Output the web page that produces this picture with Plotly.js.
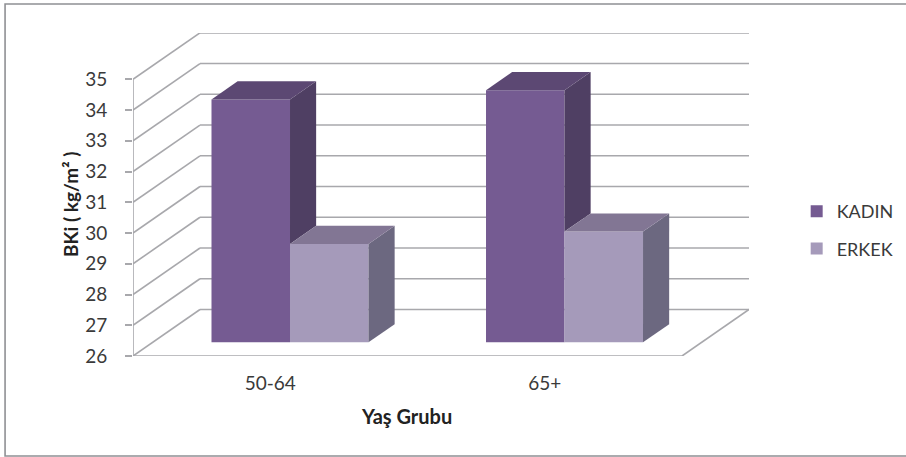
<!DOCTYPE html>
<html>
<head>
<meta charset="utf-8">
<script src="https://cdn.plot.ly/plotly-3.0.1.min.js"></script>
<style>
  html, body { margin: 0; padding: 0; background: #fff; overflow: hidden; }
  #chart { width: 906px; height: 457px; }
</style>
</head>
<body>
<div id="chart"></div>
<script>
// BKİ by age group and sex
const categories = ['50-64', '65+'];
const kadinValues = [33.9, 34.2];
const erkekValues = [29.2, 29.6];
const valueTicks = [26, 27, 28, 29, 30, 31, 32, 33, 34, 35];

// Oblique projection, in axis units: a full step of depth moves right and up.
const depthX = 0.244;
const depthY = 1.513;
const barInset = 0.295;   // where the bar fronts sit in the floor's depth
const barDepth = 0.39;    // how deep each bar runs
const barWidth = 0.286;

const xStart = 0.5;
const xFloorEnd = xStart + categories.length;
const yFloor = valueTicks[0];
const yTop = valueTicks[valueTicks.length - 1];
const centers = categories.map((_, i) => i + 1);
const frontShift = depthX * barInset;
const frontBase = yFloor + depthY * barInset;

const gridColor = '#a8a8ac';
const textColor = '#3a3a3a';
const fontFamily = 'Lato, "Open Sans", sans-serif';

function segment(x0, y0, x1, y1, color, width) {
  return { type: 'line', layer: 'below', xref: 'x', yref: 'y', x0, y0, x1, y1,
           line: { color: color || gridColor, width: width || 1.6 } };
}

// Side wall and back wall rules for each value, plus the floor outline and axis.
const shapes = [];
valueTicks.forEach(v => {
  shapes.push(segment(xStart, v, xStart + depthX, v + depthY));
  shapes.push(segment(xStart + depthX, v + depthY, xFloorEnd + depthX, v + depthY));
});
shapes.push(segment(xStart, yFloor, xStart, yTop));
shapes.push(segment(xStart, yFloor, xFloorEnd, yFloor));
shapes.push(segment(xFloorEnd, yFloor, xFloorEnd + depthX, yFloor + depthY));

// Outer chart frame, open past the right edge of the page.
const plotL = 133, plotR = 749.3, plotT = 33, plotB = 356;
const px = p => (p - plotL) / (plotR - plotL);
const py = p => (plotB - p) / (plotB - plotT);
shapes.push({ type: 'rect', layer: 'below', xref: 'paper', yref: 'paper',
  x0: px(5), x1: px(912), y0: py(456), y1: py(4),
  line: { color: '#8f9094', width: 1.6 }, fillcolor: 'rgba(0,0,0,0)' });

function face(xs, ys, color) {
  return { type: 'scatter', mode: 'lines', x: xs, y: ys, fill: 'toself', fillcolor: color,
           line: { width: 0, color: color }, hoverinfo: 'skip', showlegend: false };
}

const dX = depthX * barDepth, dY = depthY * barDepth;
const barY = v => v + depthY * barInset;

// Top and right faces extruded from each bar front.
const faces = [];
function addFaces(left, right, value, floorOfSide, topColor, sideColor) {
  const t = barY(value), b = barY(floorOfSide);
  faces.push(face([right, right + dX, right + dX, right, right], [t, t + dY, b + dY, b, t], sideColor));
  faces.push(face([left, left + dX, right + dX, right, left], [t, t + dY, t + dY, t, t], topColor));
}
centers.forEach((c, i) => {
  const mid = c + frontShift;
  // The KADIN side is only seen above the neighbouring ERKEK top face.
  addFaces(mid - barWidth, mid, kadinValues[i], erkekValues[i], '#5c4873', '#4f3f63');
  addFaces(mid, mid + barWidth, erkekValues[i], yFloor, '#827694', '#6c6880');
});

const barX = centers.map(c => c + frontShift);
const kadinBars = {
  type: 'bar', name: 'KADIN', legendgroup: 'kadin', x: barX,
  y: kadinValues.map(v => v - yFloor), base: kadinValues.map(() => frontBase),
  marker: { color: '#755b92', line: { width: 0 } },
  customdata: kadinValues, hovertemplate: 'KADIN: %{customdata}<extra></extra>'
};
const erkekBars = {
  type: 'bar', name: 'ERKEK', legendgroup: 'erkek', x: barX,
  y: erkekValues.map(v => v - yFloor), base: erkekValues.map(() => frontBase),
  marker: { color: '#a59aba', line: { width: 0 } },
  customdata: erkekValues, hovertemplate: 'ERKEK: %{customdata}<extra></extra>'
};

const layout = {
  width: 906, height: 457,
  margin: { l: plotL, r: 906 - plotR, t: plotT, b: 457 - plotB, pad: 0, autoexpand: false },
  paper_bgcolor: '#fff', plot_bgcolor: 'rgba(0,0,0,0)',
  barmode: 'group', bargap: 1 - 2 * barWidth, bargroupgap: 0,
  font: { family: fontFamily, color: textColor },
  xaxis: {
    range: [xStart, xFloorEnd + depthX], tickmode: 'array', tickvals: centers, ticktext: categories,
    showgrid: false, zeroline: false, showline: false, ticks: '', ticklabelstandoff: 14,
    tickfont: { size: 19, color: textColor, family: fontFamily }, automargin: false
  },
  yaxis: {
    range: [yFloor, yFloor + (plotB - plotT) / 30.74], tickmode: 'array', tickvals: valueTicks,
    showgrid: false, zeroline: false, showline: false, ticks: 'outside', ticklen: 7, tickwidth: 1.6,
    tickcolor: gridColor, ticklabelstandoff: 14,
    tickfont: { size: 19, color: textColor, family: fontFamily }, automargin: false
  },
  shapes,
  annotations: [
    { text: '<b>BKi ( kg/m² )</b>', textangle: -90, xref: 'paper', yref: 'paper', showarrow: false,
      x: px(71), y: py(205), xanchor: 'center', yanchor: 'middle',
      font: { size: 19, color: '#222', family: fontFamily } },
    { text: '<b>Yaş Grubu</b>', xref: 'paper', yref: 'paper', showarrow: false,
      x: px(407), y: py(416), xanchor: 'center', yanchor: 'middle',
      font: { size: 20, color: '#222', family: fontFamily } }
  ],
  legend: {
    x: px(797), y: py(193), xanchor: 'left', yanchor: 'top', traceorder: 'grouped',
    tracegroupgap: 11, bgcolor: 'rgba(0,0,0,0)', itemwidth: 30,
    font: { size: 18, color: textColor, family: fontFamily }
  },
  hovermode: 'closest'
};

Plotly.newPlot('chart', [kadinBars, erkekBars].concat(faces), layout, { displayModeBar: false, responsive: false });
</script>
</body>
</html>
